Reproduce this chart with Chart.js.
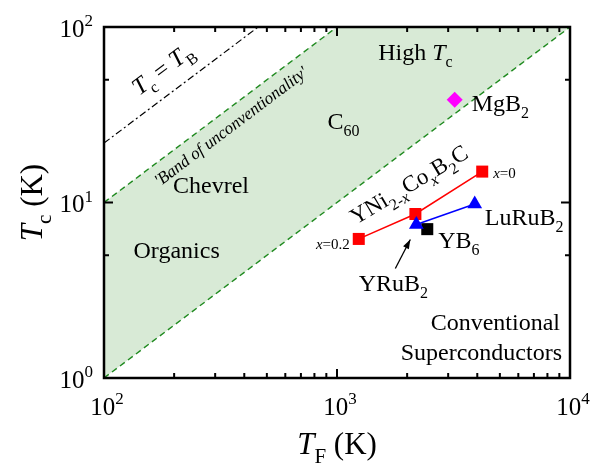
<!DOCTYPE html>
<html>
<head>
<meta charset="utf-8">
<script src="https://cdn.jsdelivr.net/npm/chart.js@4.4.1/dist/chart.umd.min.js"></script>
<style>body{margin:0;background:#fff}</style>
</head>
<body>
<canvas id="myChart" width="596" height="468"></canvas>
<script>
// données (K)
const mgb2 = [{x: 3200, y: 38.5}];
const yniCo = [{x: 1240, y: 6.2}, {x: 2170, y: 8.6}, {x: 4200, y: 15}];
const ruB2 = [{x: 2190, y: 7.5}, {x: 3900, y: 9.8}];
const yb6 = [{x: 2440, y: 7.05}];
const tcTb = [{x: 100, y: 21.8}, {x: 459, y: 100}];
const bandUpper = [{x: 100, y: 10}, {x: 1000, y: 100}];
const bandLower = [{x: 100, y: 1}, {x: 10000, y: 100}];
const bandTop = [{x: 100, y: 10}, {x: 1000, y: 100}, {x: 10000, y: 100}];
const xMajor = [100, 1000, 10000];
const xMinor = [200, 300, 400, 500, 600, 700, 800, 900, 2000, 3000, 4000, 5000, 6000, 7000, 8000, 9000];
const yMajor = [1, 10, 100];
const yMinor = [5, 50];

const FONT = '"Liberation Serif", "Times New Roman", serif';

// texte avec indices / exposants : [texte, drapeaux] i=italique _=indice ^=exposant
function rich(ctx, parts, x, y, size, align, rot) {
  ctx.save();
  ctx.translate(x, y);
  ctx.rotate(rot || 0);
  ctx.textBaseline = "alphabetic";
  ctx.fillStyle = "#000";
  const fontOf = (f) => (f.includes("i") ? "italic " : "") +
    Math.round(f.includes("_") || f.includes("^") ? size * 0.68 : size) + "px " + FONT;
  let w = 0;
  const ws = parts.map((p) => { ctx.font = fontOf(p[1] || ""); const m = ctx.measureText(p[0]).width; w += m; return m; });
  let cx = align === "center" ? -w / 2 : align === "right" ? -w : 0;
  parts.forEach((p, k) => {
    const f = p[1] || "";
    ctx.font = fontOf(f);
    const dy = f.includes("_") ? size * 0.3 : f.includes("^") ? -size * 0.42 : 0;
    ctx.fillText(p[0], cx, dy + size * 0.34);
    cx += ws[k];
  });
  ctx.restore();
}

const decor = {
  id: "decor",
  afterDatasetsDraw(chart) {
    const c = chart.ctx, xs = chart.scales.x, ys = chart.scales.y, a = chart.chartArea;
    const px = (v) => xs.getPixelForValue(v), py = (v) => ys.getPixelForValue(v);
    // cadre + graduations vers l'intérieur
    c.save();
    c.strokeStyle = "#000";
    c.lineWidth = 2.5;
    c.strokeRect(a.left, a.top, a.right - a.left, a.bottom - a.top);
    c.lineWidth = 2;
    c.beginPath();
    xMajor.concat(xMinor).forEach((v) => {
      const L = xMajor.includes(v) ? 9 : 5, X = px(v);
      c.moveTo(X, a.bottom); c.lineTo(X, a.bottom - L);
      c.moveTo(X, a.top); c.lineTo(X, a.top + L);
    });
    yMajor.concat(yMinor).forEach((v) => {
      const L = yMajor.includes(v) ? 9 : 5, Y = py(v);
      c.moveTo(a.left, Y); c.lineTo(a.left + L, Y);
      c.moveTo(a.right, Y); c.lineTo(a.right - L, Y);
    });
    c.stroke();
    c.restore();

    // étiquettes des axes
    xMajor.forEach((v) => rich(c, [["10"], [String(Math.round(Math.log10(v))), "^"]], px(v) + 3, a.bottom + 28, 25, "center"));
    yMajor.forEach((v) => rich(c, [["10"], [String(Math.round(Math.log10(v))), "^"]], a.left - 11, py(v) + 1, 25, "right"));
    rich(c, [["T", "i"], ["F", "_"], [" (K)"]], (a.left + a.right) / 2, 443, 31, "center");
    rich(c, [["T", "i"], ["c", "_"], [" (K)"]], 31, (a.top + a.bottom) / 2, 31, "center", -Math.PI / 2);

    // annotations
    const slope = Math.atan2(py(10) - py(100), px(1000) - px(100));
    rich(c, [["T", "i"], ["c", "_"], [" = "], ["T", "i"], ["B", "_"]], px(178), py(58), 24, "center", -slope);
    rich(c, [["'Band of unconventionality'", "i"]], px(350), py(27.2), 16.5, "center", -slope);
    rich(c, [["High "], ["T", "i"], ["c", "_"]], px(2170), py(72), 23.5, "center");
    rich(c, [["C"], ["60", "_"]], px(1066), py(29), 23.5, "center");
    rich(c, [["Chevrel"]], px(288), py(12.6), 23.5, "center");
    rich(c, [["Organics"]], px(205), py(5.36), 23.5, "center");
    rich(c, [["Conventional"]], a.right - 10, 322, 23.5, "right");
    rich(c, [["Superconductors"]], a.right - 8, 352, 23.5, "right");
    rich(c, [["YNi"], ["2-", "_"], ["x", "_i"], ["Co"], ["x", "_i"], ["B"], ["2", "_"], ["C"]], px(2030), py(12.7), 23, "center", -0.54);

    const P = (d) => ({x: px(d.x), y: py(d.y)});
    let p = P(mgb2[0]); rich(c, [["MgB"], ["2", "_"]], p.x + 17, p.y + 3, 23.5, "left");
    p = P(yniCo[2]); rich(c, [["x", "i"], ["=0"]], p.x + 11, p.y + 1, 15, "left");
    p = P(yniCo[0]); rich(c, [["x", "i"], ["=0.2"]], p.x - 9, p.y + 5, 15, "right");
    p = P(ruB2[1]); rich(c, [["LuRuB"], ["2", "_"]], p.x + 10, p.y + 13, 23.5, "left");
    p = P(yb6[0]); rich(c, [["YB"], ["6", "_"]], p.x + 11, p.y + 11, 23.5, "left");
    p = P(ruB2[0]); rich(c, [["YRuB"], ["2", "_"]], p.x - 23, p.y + 59, 23.5, "center");
    // flèche vers YRuB2
    const x0 = p.x - 21, y0 = p.y + 44, x1 = p.x - 6, y1 = p.y + 15;
    const ang = Math.atan2(y1 - y0, x1 - x0);
    c.save();
    c.strokeStyle = "#000"; c.fillStyle = "#000"; c.lineWidth = 1.3;
    c.beginPath(); c.moveTo(x0, y0); c.lineTo(x1, y1); c.stroke();
    c.beginPath();
    c.moveTo(x1, y1);
    c.lineTo(x1 - 10 * Math.cos(ang - 0.33), y1 - 10 * Math.sin(ang - 0.33));
    c.lineTo(x1 - 10 * Math.cos(ang + 0.33), y1 - 10 * Math.sin(ang + 0.33));
    c.closePath(); c.fill();
    c.restore();
  }
};

const ctx = document.getElementById("myChart").getContext("2d");
const chart = new Chart(ctx, {
  type: "scatter",
  data: {
    datasets: [
      { data: bandTop, showLine: true, borderWidth: 0, pointRadius: 0, fill: 1, backgroundColor: "rgba(216,234,214,1)", order: 20 },
      { data: bandLower, showLine: true, borderColor: "#1f8a1f", borderWidth: 1.4, borderDash: [6, 4], pointRadius: 0, order: 19 },
      { data: bandUpper, showLine: true, borderColor: "#1f8a1f", borderWidth: 1.4, borderDash: [6, 4], pointRadius: 0, order: 18 },
      { data: tcTb, showLine: true, borderColor: "#000", borderWidth: 1.2, borderDash: [7, 3, 2, 3], pointRadius: 0, order: 17 },
      { data: yb6, pointStyle: "rect", pointRadius: 8.5, backgroundColor: "#000", borderColor: "#000", borderWidth: 0, order: 5 },
      { data: yniCo, showLine: true, borderColor: "#ff0000", borderWidth: 1.5, pointStyle: "rect", pointRadius: 8.5, backgroundColor: "#ff0000", pointBorderWidth: 0, order: 4 },
      { data: ruB2, showLine: true, borderColor: "#0000ff", borderWidth: 1.5, pointStyle: "triangle", pointRadius: 8.5, backgroundColor: "#0000ff", pointBorderWidth: 0, order: 3 },
      { data: mgb2, pointStyle: "rectRot", pointRadius: 8, backgroundColor: "#ff00ff", borderWidth: 0, order: 2 }
    ]
  },
  options: {
    responsive: false,
    animation: false,
    devicePixelRatio: 1,
    layout: { padding: { left: 104, top: 27, right: 26, bottom: 90 } },
    scales: {
      x: { type: "logarithmic", min: 100, max: 10000, display: false },
      y: { type: "logarithmic", min: 1, max: 100, display: false }
    },
    plugins: { legend: { display: false }, tooltip: { enabled: false } }
  },
  plugins: [decor]
});
</script>
</body>
</html>
